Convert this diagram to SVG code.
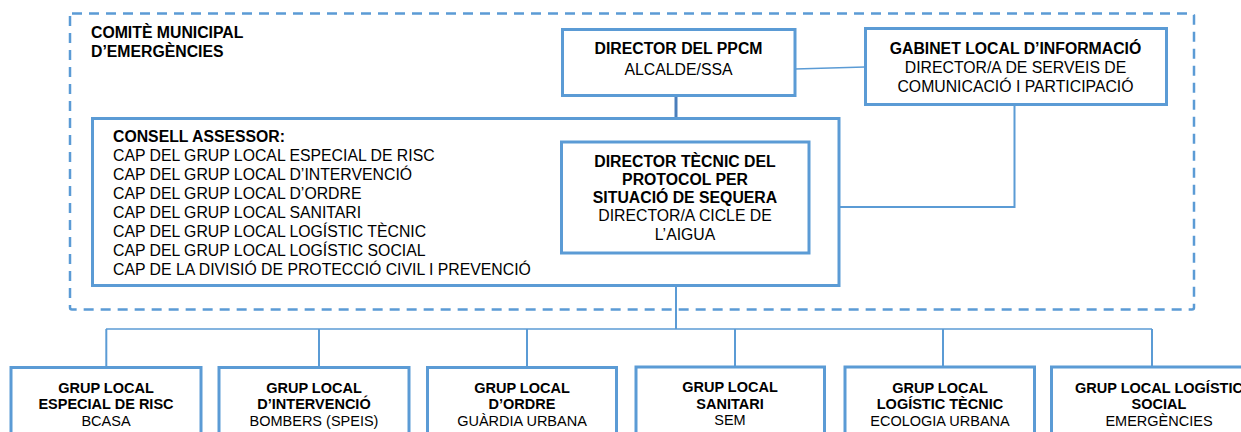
<svg xmlns="http://www.w3.org/2000/svg" width="1241" height="432" viewBox="0 0 1241 432">
<style>
.box{fill:#fff;stroke:#5B9BD5;stroke-width:3}
.dash{fill:none;stroke:#5B9BD5;stroke-width:2.5;stroke-dasharray:10 7}
.ln{fill:none;stroke:#5B9BD5;stroke-width:2}
.thin{fill:none;stroke:#5B9BD5;stroke-width:1.5}
.dark{fill:none;stroke:#4A7EBB;stroke-width:3}
text{font-family:"Liberation Sans",Arial,sans-serif;fill:#000}
.t{font-size:15.8px}
.b{font-weight:bold}
.s{font-size:14.5px}
.c{text-anchor:middle}
</style>
<rect width="1241" height="432" fill="#fff"/>
<g id="comite">
<rect class="dash" x="70" y="13.5" width="1124" height="296" rx="2"/>
<text class="t b" x="91" y="37.5">COMITÈ MUNICIPAL</text>
<text class="t b" x="91" y="56.5">D’EMERGÈNCIES</text>
</g>
<g id="connectors">
<line class="dark" x1="676" y1="96" x2="676" y2="118"/>
<line class="thin" x1="795" y1="69" x2="865" y2="67"/>
<polyline class="ln" points="809,207 1014.5,207 1014.5,104"/>
<line class="ln" x1="676" y1="253" x2="676" y2="329"/>
<line class="thin" x1="106" y1="329" x2="1152" y2="329"/>
<line class="ln" x1="106.3" y1="329" x2="106.3" y2="367"/>
<line class="ln" x1="319" y1="329" x2="319" y2="367"/>
<line class="ln" x1="527" y1="329" x2="527" y2="367"/>
<line class="ln" x1="735" y1="329" x2="735" y2="367"/>
<line class="ln" x1="943" y1="329" x2="943" y2="367"/>
<line class="ln" x1="1152" y1="329" x2="1152" y2="367"/>
</g>
<g id="consell">
<rect class="box" x="92.5" y="118.5" width="746.5" height="167"/>
<text class="t" x="113" y="142"><tspan class="b">CONSELL ASSESSOR:</tspan><tspan x="113" dy="19">CAP DEL GRUP LOCAL ESPECIAL DE RISC</tspan><tspan x="113" dy="19">CAP DEL GRUP LOCAL D’INTERVENCIÓ</tspan><tspan x="113" dy="19">CAP DEL GRUP LOCAL D’ORDRE</tspan><tspan x="113" dy="19">CAP DEL GRUP LOCAL SANITARI</tspan><tspan x="113" dy="19">CAP DEL GRUP LOCAL LOGÍSTIC TÈCNIC</tspan><tspan x="113" dy="19">CAP DEL GRUP LOCAL LOGÍSTIC SOCIAL</tspan><tspan x="113" dy="19">CAP DE LA DIVISIÓ DE PROTECCIÓ CIVIL I PREVENCIÓ</tspan></text>
</g>
<g id="director-ppcm">
<rect class="box" x="562.5" y="29.5" width="232.5" height="66"/>
<text class="t b c" x="678.5" y="54">DIRECTOR DEL PPCM</text>
<text class="t c" x="678.5" y="75">ALCALDE/SSA</text>
</g>
<g id="gabinet">
<rect class="box" x="865.5" y="28.5" width="301" height="76"/>
<text class="t b c" x="1015.5" y="54">GABINET LOCAL D’INFORMACIÓ</text>
<text class="t c" x="1015.5" y="73">DIRECTOR/A DE SERVEIS DE</text>
<text class="t c" x="1015.5" y="92">COMUNICACIÓ I PARTICIPACIÓ</text>
</g>
<g id="director-tecnic">
<rect class="box" x="561.5" y="142" width="247.5" height="111"/>
<text class="t b c" x="685" y="166.5">DIRECTOR TÈCNIC DEL</text>
<text class="t b c" x="685" y="184.8">PROTOCOL PER</text>
<text class="t b c" x="685" y="203.1">SITUACIÓ DE SEQUERA</text>
<text class="t c" x="685" y="221.4">DIRECTOR/A CICLE DE</text>
<text class="t c" x="685" y="239.7">L’AIGUA</text>
</g>
<g id="grup-risc">
<rect class="box" x="11" y="367.5" width="190" height="80"/>
<text class="s b c" x="106" y="392.5">GRUP LOCAL</text>
<text class="s b c" x="106" y="409">ESPECIAL DE RISC</text>
<text class="s c" x="106" y="425.5">BCASA</text>
</g>
<g id="grup-intervencio">
<rect class="box" x="219" y="367.5" width="190" height="80"/>
<text class="s b c" x="314" y="392.5">GRUP LOCAL</text>
<text class="s b c" x="314" y="409">D’INTERVENCIÓ</text>
<text class="s c" x="314" y="425.5">BOMBERS (SPEIS)</text>
</g>
<g id="grup-ordre">
<rect class="box" x="427.5" y="367.5" width="189" height="80"/>
<text class="s b c" x="522" y="392.5">GRUP LOCAL</text>
<text class="s b c" x="522" y="409">D’ORDRE</text>
<text class="s c" x="522" y="425.5">GUÀRDIA URBANA</text>
</g>
<g id="grup-sanitari">
<rect class="box" x="636" y="367" width="188.5" height="80"/>
<text class="s b c" x="730" y="392">GRUP LOCAL</text>
<text class="s b c" x="730" y="408.5">SANITARI</text>
<text class="s c" x="730" y="425">SEM</text>
</g>
<g id="grup-logistic-tecnic">
<rect class="box" x="845" y="367" width="189.5" height="80"/>
<text class="s b c" x="940" y="392.5">GRUP LOCAL</text>
<text class="s b c" x="940" y="409">LOGÍSTIC TÈCNIC</text>
<text class="s c" x="940" y="425.5">ECOLOGIA URBANA</text>
</g>
<g id="grup-logistic-social">
<rect class="box" x="1051.5" y="367" width="216" height="80"/>
<text class="s b c" x="1159" y="392.5">GRUP LOCAL LOGÍSTIC</text>
<text class="s b c" x="1159" y="409">SOCIAL</text>
<text class="s c" x="1159" y="425.5">EMERGÈNCIES</text>
</g>
</svg>
